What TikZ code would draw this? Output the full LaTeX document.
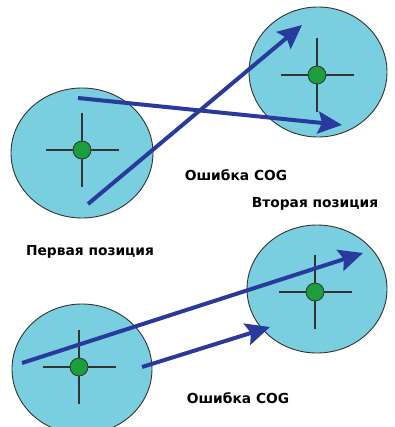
\documentclass[tikz,border=0pt]{standalone}
\usepackage{fontspec}
\setmainfont{DejaVu Sans}
\usetikzlibrary{arrows.meta}
\definecolor{disk}{HTML}{79CFE0}
\definecolor{arr}{HTML}{2A3A9C}
\definecolor{cog}{HTML}{1C9E3E}
\definecolor{ln}{HTML}{333333}
\tikzset{
  diskshape/.style={draw=ln, line width=0.9pt, fill=disk},
  crossline/.style={draw=ln, line width=1.3pt},
  cogdot/.style={circle, draw=ln, line width=0.8pt, fill=cog, minimum size=18pt, inner sep=0pt},
  errarrow/.style={draw=arr, line width=4pt, -{Stealth[length=24pt,width=22pt,inset=4pt]}},
  lbl/.style={font=\bfseries\fontsize{13.8}{15}\selectfont, text=black, inner sep=0pt}
}
\begin{document}
\begin{tikzpicture}[x=1pt,y=-1pt]
\useasboundingbox (0,0) rectangle (394,427);
\fill[white] (0,0) rectangle (394,427);
% top pair
\draw[diskshape] (82,153) ellipse [x radius=71, y radius=65];
\draw[diskshape] (318,72) ellipse [x radius=69, y radius=65];
% bottom pair
\draw[diskshape] (82,369) ellipse [x radius=70, y radius=65];
\draw[diskshape] (317,289) ellipse [x radius=70, y radius=64];
% crosshairs
\foreach \cx/\cy/\n in {82/150/a, 317/75/b, 79/367/c, 315/292/d}{
  \draw[crossline] (\cx-36,\cy) -- (\cx+37,\cy);
  \draw[crossline] (\cx,\cy-37) -- (\cx,\cy+37);
  \node[cogdot] (cog\n) at (\cx,\cy) {};
}
% arrows top
\coordinate (t1s) at (78,98);
\coordinate (t1e) at (342,125);
\coordinate (t2s) at (88,204);
\coordinate (t2e) at (302,25);
\draw[errarrow] (t1s) -- (t1e);
\draw[errarrow] (t2s) -- (t2e);
% arrows bottom
\coordinate (b1s) at (22,363);
\coordinate (b1e) at (363,253);
\coordinate (b2s) at (142,367);
\coordinate (b2e) at (270,327);
\draw[errarrow] (b1s) -- (b1e);
\draw[errarrow] (b2s) -- (b2e);
% labels
\node[lbl] (err1) at (236,175) {Ошибка COG};
\node[lbl] (pos2) at (315,204) {Вторая позиция};
\node[lbl] (pos1) at (90,252) {Первая позиция};
\node[lbl] (err2) at (238,398) {Ошибка COG};
\end{tikzpicture}
\end{document}
